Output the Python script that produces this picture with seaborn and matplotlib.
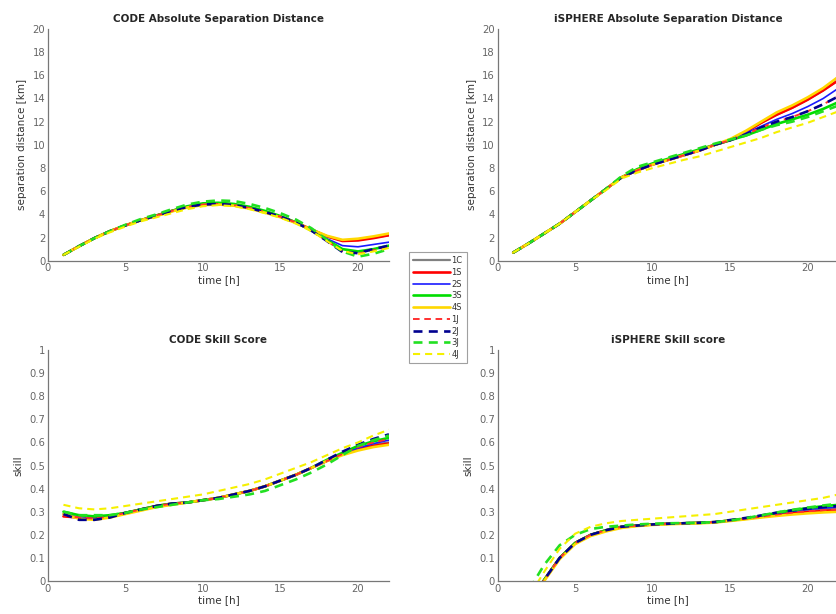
import numpy as np
import pandas as pd
import matplotlib
matplotlib.use('Agg')
import matplotlib.pyplot as plt
import seaborn as sns

# time axis (hours)
hours = list(range(1, 23))
labels = ['1C', '1S', '2S', '3S', '4S', '1J', '2J', '3J', '4J']
colors = ['#808080', '#ff0000', '#1a1aff', '#00dd00', '#ffd800',
          '#ff3030', '#00008f', '#22e022', '#f5f000']
solid = [True, True, True, True, True, False, False, False, False]
widths = [1.6, 1.9, 1.2, 1.9, 1.9, 1.4, 1.9, 1.9, 1.5]

# CODE absolute separation distance [km]
code_sep = {
    '1C': [0.5, 1.25, 1.95, 2.55, 3.05, 3.5, 3.9, 4.3, 4.65, 4.85, 4.9, 4.8, 4.55, 4.2, 3.8, 3.3, 2.7, 2.1, 1.75, 1.8, 2.0, 2.2],
    '1S': [0.5, 1.25, 1.95, 2.55, 3.05, 3.5, 3.9, 4.3, 4.65, 4.85, 4.9, 4.8, 4.55, 4.2, 3.8, 3.3, 2.7, 2.1, 1.7, 1.75, 1.95, 2.2],
    '2S': [0.5, 1.25, 1.95, 2.55, 3.05, 3.5, 3.9, 4.3, 4.65, 4.85, 4.9, 4.8, 4.55, 4.2, 3.8, 3.3, 2.65, 1.9, 1.3, 1.2, 1.4, 1.6],
    '3S': [0.5, 1.25, 1.95, 2.55, 3.05, 3.5, 3.9, 4.3, 4.7, 4.95, 5.0, 4.9, 4.65, 4.3, 3.85, 3.3, 2.6, 1.8, 1.0, 0.8, 1.0, 1.3],
    '4S': [0.5, 1.25, 1.95, 2.55, 3.05, 3.5, 3.85, 4.25, 4.6, 4.8, 4.85, 4.75, 4.5, 4.15, 3.75, 3.25, 2.7, 2.15, 1.8, 1.9, 2.1, 2.35],
    '1J': [0.5, 1.25, 1.95, 2.55, 3.05, 3.5, 3.9, 4.3, 4.65, 4.85, 4.9, 4.8, 4.55, 4.2, 3.8, 3.3, 2.6, 1.7, 0.8, 0.6, 0.9, 1.2],
    '2J': [0.5, 1.25, 1.95, 2.55, 3.05, 3.5, 3.9, 4.3, 4.65, 4.85, 4.9, 4.8, 4.55, 4.2, 3.8, 3.3, 2.6, 1.7, 0.75, 0.65, 1.0, 1.3],
    '3J': [0.5, 1.25, 1.95, 2.55, 3.1, 3.6, 4.0, 4.45, 4.85, 5.1, 5.2, 5.15, 4.9, 4.55, 4.1, 3.55, 2.8, 1.8, 0.8, 0.35, 0.6, 1.0],
    '4J': [0.5, 1.2, 1.9, 2.45, 2.95, 3.4, 3.75, 4.1, 4.45, 4.7, 4.8, 4.7, 4.45, 4.1, 3.7, 3.2, 2.55, 1.7, 0.85, 0.55, 0.8, 1.1],
}

# iSPHERE absolute separation distance [km]
isph_sep = {
    '1C': [0.7, 1.5, 2.35, 3.2, 4.2, 5.2, 6.2, 7.2, 7.8, 8.3, 8.7, 9.1, 9.5, 10.0, 10.4, 11.1, 11.9, 12.6, 13.2, 13.9, 14.7, 15.6],
    '1S': [0.7, 1.5, 2.35, 3.2, 4.2, 5.2, 6.2, 7.2, 7.8, 8.3, 8.7, 9.1, 9.5, 10.0, 10.4, 11.1, 11.9, 12.6, 13.2, 13.9, 14.7, 15.6],
    '2S': [0.7, 1.5, 2.35, 3.2, 4.2, 5.2, 6.2, 7.2, 7.8, 8.3, 8.7, 9.1, 9.5, 10.0, 10.4, 11.0, 11.6, 12.2, 12.7, 13.3, 14.0, 14.9],
    '3S': [0.7, 1.5, 2.35, 3.2, 4.2, 5.2, 6.2, 7.2, 7.9, 8.4, 8.8, 9.2, 9.6, 10.0, 10.4, 10.8, 11.3, 11.8, 12.2, 12.6, 13.1, 13.7],
    '4S': [0.7, 1.5, 2.35, 3.2, 4.2, 5.2, 6.2, 7.2, 7.8, 8.3, 8.7, 9.1, 9.5, 10.0, 10.5, 11.2, 12.0, 12.8, 13.4, 14.1, 14.9, 15.9],
    '1J': [0.7, 1.5, 2.35, 3.2, 4.2, 5.2, 6.2, 7.2, 7.8, 8.3, 8.7, 9.1, 9.5, 10.0, 10.4, 10.9, 11.5, 12.0, 12.4, 12.9, 13.5, 14.2],
    '2J': [0.7, 1.5, 2.35, 3.2, 4.2, 5.2, 6.2, 7.2, 7.8, 8.3, 8.7, 9.1, 9.5, 10.0, 10.4, 10.9, 11.5, 12.0, 12.4, 12.9, 13.5, 14.2],
    '3J': [0.7, 1.5, 2.35, 3.2, 4.2, 5.2, 6.2, 7.3, 8.1, 8.5, 8.9, 9.3, 9.7, 10.1, 10.45, 10.8, 11.3, 11.7, 12.0, 12.4, 12.9, 13.4],
    '4J': [0.7, 1.5, 2.35, 3.2, 4.2, 5.2, 6.1, 7.1, 7.6, 8.0, 8.35, 8.7, 9.0, 9.4, 9.8, 10.2, 10.6, 11.1, 11.5, 11.9, 12.4, 12.9],
}

# CODE skill score
code_skill = {
    '1C': [0.29, 0.275, 0.27, 0.28, 0.295, 0.31, 0.325, 0.335, 0.34, 0.35, 0.36, 0.375, 0.39, 0.41, 0.435, 0.46, 0.49, 0.52, 0.55, 0.575, 0.59, 0.60],
    '1S': [0.28, 0.275, 0.27, 0.28, 0.295, 0.31, 0.325, 0.335, 0.34, 0.35, 0.36, 0.375, 0.39, 0.41, 0.435, 0.46, 0.49, 0.52, 0.55, 0.57, 0.585, 0.595],
    '2S': [0.29, 0.275, 0.27, 0.28, 0.295, 0.31, 0.325, 0.335, 0.34, 0.35, 0.36, 0.375, 0.39, 0.41, 0.435, 0.46, 0.49, 0.52, 0.55, 0.575, 0.595, 0.61],
    '3S': [0.30, 0.285, 0.28, 0.285, 0.295, 0.31, 0.325, 0.335, 0.34, 0.35, 0.36, 0.375, 0.39, 0.41, 0.435, 0.46, 0.49, 0.525, 0.555, 0.585, 0.605, 0.62],
    '4S': [0.29, 0.27, 0.265, 0.275, 0.29, 0.305, 0.32, 0.33, 0.34, 0.35, 0.36, 0.375, 0.39, 0.41, 0.435, 0.46, 0.49, 0.52, 0.545, 0.565, 0.58, 0.59],
    '1J': [0.285, 0.275, 0.27, 0.28, 0.295, 0.31, 0.325, 0.335, 0.34, 0.35, 0.36, 0.375, 0.39, 0.41, 0.435, 0.46, 0.49, 0.52, 0.55, 0.58, 0.60, 0.615],
    '2J': [0.29, 0.265, 0.265, 0.275, 0.295, 0.31, 0.325, 0.335, 0.34, 0.35, 0.36, 0.375, 0.39, 0.41, 0.435, 0.46, 0.49, 0.525, 0.56, 0.59, 0.615, 0.635],
    '3J': [0.30, 0.285, 0.285, 0.285, 0.295, 0.31, 0.32, 0.33, 0.34, 0.35, 0.355, 0.365, 0.375, 0.39, 0.415, 0.44, 0.47, 0.505, 0.545, 0.585, 0.61, 0.63],
    '4J': [0.33, 0.315, 0.31, 0.315, 0.325, 0.335, 0.345, 0.355, 0.365, 0.375, 0.39, 0.405, 0.42, 0.44, 0.465, 0.49, 0.515, 0.545, 0.575, 0.60, 0.63, 0.655],
}

# iSPHERE skill score (first hours below zero, clipped by the axis)
isph_skill = {
    '1C': [-0.22, -0.10, 0.005, 0.10, 0.165, 0.20, 0.22, 0.235, 0.24, 0.245, 0.248, 0.25, 0.252, 0.255, 0.262, 0.27, 0.28, 0.29, 0.30, 0.305, 0.31, 0.315],
    '1S': [-0.22, -0.10, 0.005, 0.10, 0.165, 0.20, 0.22, 0.235, 0.24, 0.245, 0.248, 0.25, 0.252, 0.255, 0.262, 0.27, 0.278, 0.286, 0.293, 0.298, 0.303, 0.307],
    '2S': [-0.22, -0.10, 0.005, 0.10, 0.165, 0.20, 0.22, 0.235, 0.24, 0.245, 0.248, 0.25, 0.252, 0.255, 0.262, 0.27, 0.28, 0.292, 0.302, 0.31, 0.316, 0.32],
    '3S': [-0.22, -0.10, 0.005, 0.10, 0.165, 0.20, 0.22, 0.235, 0.24, 0.245, 0.248, 0.25, 0.252, 0.255, 0.262, 0.27, 0.282, 0.295, 0.306, 0.316, 0.324, 0.33],
    '4S': [-0.22, -0.10, 0.0, 0.095, 0.16, 0.195, 0.215, 0.23, 0.238, 0.243, 0.246, 0.248, 0.25, 0.253, 0.26, 0.267, 0.275, 0.282, 0.288, 0.293, 0.297, 0.30],
    '1J': [-0.22, -0.10, 0.005, 0.10, 0.165, 0.20, 0.22, 0.235, 0.24, 0.245, 0.248, 0.25, 0.252, 0.255, 0.262, 0.27, 0.279, 0.288, 0.296, 0.302, 0.307, 0.31],
    '2J': [-0.22, -0.10, 0.005, 0.10, 0.165, 0.20, 0.22, 0.235, 0.24, 0.245, 0.248, 0.25, 0.252, 0.255, 0.264, 0.273, 0.284, 0.296, 0.306, 0.314, 0.32, 0.325],
    '3J': [-0.15, -0.04, 0.07, 0.155, 0.20, 0.225, 0.235, 0.24, 0.245, 0.248, 0.25, 0.251, 0.252, 0.255, 0.262, 0.272, 0.284, 0.297, 0.308, 0.318, 0.327, 0.335],
    '4J': [-0.20, -0.07, 0.04, 0.14, 0.205, 0.235, 0.25, 0.26, 0.265, 0.27, 0.275, 0.28, 0.285, 0.29, 0.30, 0.31, 0.32, 0.33, 0.34, 0.35, 0.36, 0.375],
}

sns.set_style('white')
plt.rcParams['font.family'] = ['DejaVu Sans']

fig = plt.figure(figsize=(8.37, 6.14), dpi=100)
# axes positions follow the original layout; right column runs off the page
positions = [[0.0573, 0.5754, 0.4074, 0.3774],
             [0.5946, 0.5754, 0.4074, 0.3774],
             [0.0573, 0.0537, 0.4074, 0.3762],
             [0.5946, 0.0537, 0.4074, 0.3762]]
panels = [(code_sep, 'CODE Absolute Separation Distance', 'separation distance [km]', 'sep'),
          (isph_sep, 'iSPHERE Absolute Separation Distance', 'separation distance [km]', 'sep'),
          (code_skill, 'CODE Skill Score', 'skill', 'skill'),
          (isph_skill, 'iSPHERE Skill score', 'skill', 'skill')]

tick_grey = '#666666'
handles = []
for k, (data, title, ylabel, kind) in enumerate(panels):
    ax = fig.add_axes(positions[k])
    for i, name in enumerate(labels):
        sns.lineplot(x=hours, y=data[name], ax=ax, color=colors[i],
                     linewidth=widths[i], legend=False)
        line = ax.lines[-1]
        if not solid[i]:
            line.set_dashes([3.4, 2.4])
        line.set_label(name)
        if k == 0:
            handles.append(line)
    ax.set_xlim(0, 22)
    ax.set_xticks([0, 5, 10, 15, 20])
    if kind == 'sep':
        ax.set_ylim(0, 20)
        ax.set_yticks(range(0, 21, 2))
    else:
        ax.set_ylim(0, 1)
        yt = [0, 0.1, 0.2, 0.3, 0.4, 0.5, 0.6, 0.7, 0.8, 0.9, 1]
        ax.set_yticks(yt)
        ax.set_yticklabels(['0', '0.1', '0.2', '0.3', '0.4', '0.5', '0.6', '0.7', '0.8', '0.9', '1'])
    ax.set_title(title, fontsize=7.5, fontweight='bold', pad=5)
    ax.set_xlabel('time [h]', fontsize=7.5, color='#333333', labelpad=1)
    ax.set_ylabel(ylabel, fontsize=7.5, color='#333333', labelpad=4)
    ax.tick_params(direction='in', length=3, width=0.8, labelsize=7.2,
                   colors=tick_grey, pad=2)
    for side in ['top', 'right']:
        ax.spines[side].set_visible(False)
    for side in ['left', 'bottom']:
        ax.spines[side].set_color('#777777')
        ax.spines[side].set_linewidth(0.9)

leg = fig.legend(handles, labels, loc='upper left', bbox_to_anchor=(0.4887, 0.5896),
                 fontsize=6, frameon=True, fancybox=False, handlelength=4.4,
                 handletextpad=0.2, labelspacing=0.33, borderpad=0.5,
                 borderaxespad=0)
leg.get_frame().set_edgecolor('#888888')
leg.get_frame().set_linewidth(0.8)
for t in leg.get_texts():
    t.set_color('#333333')

fig.savefig('out.png', dpi=100)
